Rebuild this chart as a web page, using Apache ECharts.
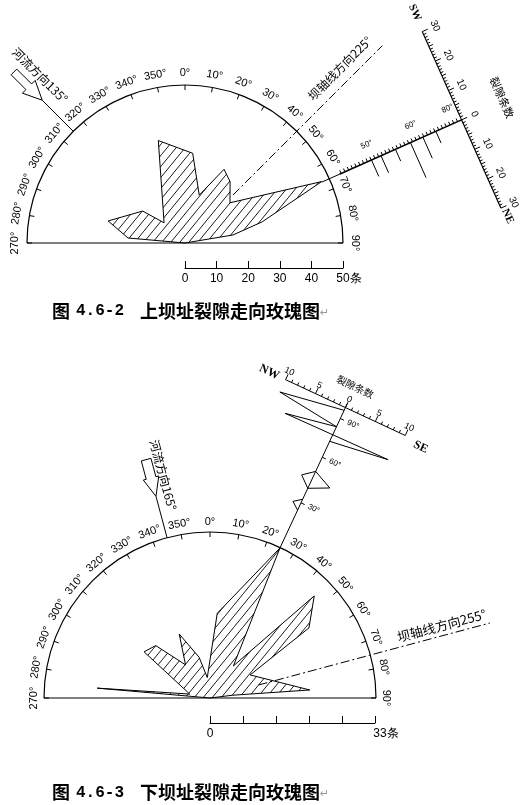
<!DOCTYPE html>
<html><head><meta charset="utf-8">
<script src="https://cdn.jsdelivr.net/npm/echarts@6/dist/echarts.min.js"></script>
<style>html,body{margin:0;padding:0;background:#fff;}#c{width:524px;height:805px;}</style>
</head><body><div id="c"></div>
<script>
// ================= DATA =================
// angle axis ticks (strike azimuth, degrees)
const angleTickValues = [270,280,290,300,310,320,330,340,350,0,10,20,30,40,50,60,70,80,90];
const angleTickLabels = ['270°','280°','290°','300°','310°','320°','330°','340°','350°','0°','10°','20°','30°','40°','50°','60°','70°','80°','90°'];

// Rose 1 (上坝址): outline vertices — fracture count and azimuth
const rose1Count   = [0, 18.1, 25.3, 16.8, 9.2, 33.5, 28.5, 15.8, 26.4, 24.1, 19.1, 47.4, 25.3, 15.4, 0];
const rose1Azimuth = [0, 275, 286, 307, 314, 345.4, 4.9, 16.6, 27.9, 36.3, 48.2, 65.8, 74.7, 80.5, 0];

// Rose 2 (下坝址)
const rose2Count   = [0, 22.5, 4.1, 16.0, 15.0, 8.2, 14.1, 8.4, 4.1, 16.9, 32.9, 7.9, 29.0, 24.1, 9.2, 19.9, 4.5, 0];
const rose2Azimuth = [0, 275, 281, 305, 314, 323.6, 334.3, 345, 352.4, 4.9, 25, 36.1, 45.6, 54.7, 60.1, 85.4, 83, 0];

// scale bars
const scale1Max = 50, scale1Step = 10;
const scale2Max = 33, scale2Step = 6.6;

// annotation directions
const river1Az = 315, dam1Az = 45, strike1Az = 66;
const river2Az = 345, dam2Az = 75, strike2Az = 25;

// dip diagram 1: positions along strike line (count units) and fracture counts
const dip1Pos   = [64.6, 67.9, 72.9, 78.1, 82.4, 86.9];
const dip1Count = [5.6, 5.8, 4.0, 11.9, 7.2, 4.0];
const dip1LabelPos = [65.2, 80.4, 93.2];
const dip1Labels   = ['50°', '60°', '80°'];
const count1Ticks  = [-30, -20, -10, 0, 10, 20, 30];
const count1Labels = ['30', '20', '10', '0', '10', '20', '30'];

// dip diagram 2
const freq2Pos   = [63.1, 61.0, 59.5, 57.6, 57.9, 56.3];
const freq2Count = [0, -10.0, 0, -7.9, 9.2, 0];
const freq2bPos   = [49.7, 47.9, 46.0, 47.9, 49.7];
const freq2bCount = [0, -1.7, 0, 3.0, 0];
const freq2cPos   = [43.6, 42.4, 41.2];
const freq2cCount = [0, -1.2, 0];
const dip2LabelPos = [61.3, 52.8, 42.8];
const dip2Labels   = ['90°', '60°', '30°'];
const count2Ticks  = [-10, -5, 0, 5, 10];
const count2Labels = ['10', '5', '0', '5', '10'];

// ================= HELPERS =================
const toAxis = az => az > 180 ? az - 360 : az;
const DEG = Math.PI / 180;
const CJK = '"Noto Sans CJK SC"';

function hatch() {
  const w = 9, h = 11;
  const cv = document.createElement('canvas'); cv.width = w; cv.height = h;
  const g = cv.getContext('2d');
  g.strokeStyle = '#000'; g.lineWidth = 0.9;
  g.beginPath(); g.moveTo(-w, 2 * h); g.lineTo(2 * w, -h); g.stroke();
  return cv;
}
const hatchFill = { image: hatch(), repeat: 'repeat' };

function T(p, str, rot, font, fill) {
  return { type: 'text', x: p[0], y: p[1], rotation: rot || 0,
    style: { text: str, font: font, fill: fill || '#000', align: 'center', verticalAlign: 'middle',
             textAlign: 'center', textVerticalAlign: 'middle' } };
}
function L(p, q, w, dash) {
  return { type: 'line', shape: { x1: p[0], y1: p[1], x2: q[0], y2: q[1] },
    style: { stroke: '#000', lineWidth: w || 1, lineDash: dash || null, fill: null } };
}
function frameOf(api, az) {
  const c = api.coord([0, 0]);
  const p = api.coord([100, toAxis(az)]);
  const U = [(p[0] - c[0]) / 100, (p[1] - c[1]) / 100];
  const s = Math.hypot(U[0], U[1]);
  const u = [U[0] / s, U[1] / s];
  const n = [-u[1], u[0]];
  return { c, U, u, n, s,
    at(d, oPx, dPx) { oPx = oPx || 0; dPx = dPx || 0;
      return [c[0] + d * U[0] + dPx * u[0] + oPx * n[0], c[1] + d * U[1] + dPx * u[1] + oPx * n[1]]; } };
}

function roseSeries(polarIndex, counts, azs) {
  return { type: 'custom', coordinateSystem: 'polar', polarIndex, z: 3,
    data: counts.map((v, i) => [v, toAxis(azs[i])]),
    renderItem(params, api) {
      if (params.dataIndex !== 0) return null;
      const pts = counts.map((v, i) => api.coord([v, toAxis(azs[i])]));
      return { type: 'polygon', shape: { points: pts },
        style: { fill: hatchFill, stroke: '#000', lineWidth: 1 } };
    } };
}

function decoSeries(polarIndex, cfg) {
  return { type: 'custom', coordinateSystem: 'polar', polarIndex, z: 4, data: [[0, 0]],
    renderItem(params, api) {
      const el = [];
      const R = cfg.rMax;
      const c = api.coord([0, 0]);
      const a = api.coord([R, -90]), b = api.coord([R, 90]);
      el.push(L(a, b, 1.2));
      angleTickValues.forEach((v, i) => {
        const p = api.coord([R, toAxis(v)]);
        const dx = p[0] - c[0], dy = p[1] - c[1], len = Math.hypot(dx, dy);
        const q = [p[0] + dx / len * cfg.labelGap, p[1] + dy / len * cfg.labelGap];
        el.push(T(q, angleTickLabels[i], -toAxis(v) * DEG, '11px "Liberation Sans"'));
      });
      // dam axis
      const D = frameOf(api, cfg.damAz);
      el.push(L(D.at(cfg.damFrom), D.at(cfg.damTo), 1, [9, 3, 2, 3]));
      el.push(T(D.at(cfg.damTextAt, cfg.damTextOff), cfg.damText, (90 - cfg.damAz) * DEG, cfg.damFont));
      // river arrow
      const F = frameOf(api, cfg.riverAz);
      const tip = F.at(cfg.riverTip);
      const q = (al, pe) => [tip[0] + al * F.u[0] + pe * F.n[0], tip[1] + al * F.u[1] + pe * F.n[1]];
      const A = cfg.arrow;
      el.push(L(F.at(R), tip, 1));
      el.push({ type: 'polygon', shape: { points: [tip, q(A.head, A.hh), q(A.head, A.hs), q(A.len, A.hs), q(A.len, -A.hs), q(A.head, -A.hs), q(A.head, -A.hh)] },
        style: { fill: '#fff', stroke: '#000', lineWidth: 1 } });
      el.push(T(F.at(cfg.riverTextAt, cfg.riverTextOff), cfg.riverText, -(90 + toAxis(cfg.riverAz)) * DEG, '12px ' + CJK));
      return { type: 'group', children: el };
    } };
}

function aux1Series() {
  return { type: 'custom', coordinateSystem: 'polar', polarIndex: 0, z: 5, data: [[0, 0]],
    renderItem(params, api) {
      const el = [];
      const F = frameOf(api, strike1Az);
      const k = 3.22; // px per fracture on count scale
      const start = 47.4, from = 53.5, end = 95.8;
      el.push(L(F.at(start), F.at(from), 1));
      el.push(L(F.at(from), F.at(end), 1.6));
      for (let d = from + 0.6; d < end - 0.5; d += 1.3) el.push(L(F.at(d), F.at(d, -3.5), 1));
      dip1Pos.forEach((d, i) => el.push(L(F.at(d), F.at(d, dip1Count[i] * k), 1)));
      dip1LabelPos.forEach((d, i) => el.push(T(F.at(d, -16), dip1Labels[i], (90 - strike1Az) * DEG, '8px "Liberation Sans"')));
      el.push(L(F.at(end, -30 * k), F.at(end, 30 * k), 1.2));
      for (let j = -30; j <= 30; j++) {
        const len = j % 10 === 0 ? 6 : (j % 5 === 0 ? 4.5 : 3);
        el.push(L(F.at(end, j * k), F.at(end, j * k, len), 1));
      }
      const rot = -strike1Az * DEG;
      count1Ticks.forEach((v, i) => el.push(T(F.at(end, v * k, 14), count1Labels[i], rot, '10px "Liberation Sans"')));
      el.push(T(F.at(end, -117, 1), 'SW', rot, 'bold 11px "Liberation Serif"'));
      el.push(T(F.at(end, 107, 3), 'NE', rot, 'bold 11px "Liberation Serif"'));
      el.push(T(F.at(end, -4, 46), '裂隙条数', rot, '11px ' + CJK));
      return { type: 'group', children: el };
    } };
}

function aux2Series() {
  return { type: 'custom', coordinateSystem: 'polar', polarIndex: 1, z: 5, data: [[0, 0]],
    renderItem(params, api) {
      const el = [];
      const F = frameOf(api, strike2Az);
      const k = 6.6;
      const start = 32.9, end = 64.5, at0 = 63.7;
      el.push(L(F.at(start), F.at(end), 1));
      el.push(L(F.at(at0, -10 * k), F.at(at0, 10 * k), 1));
      for (let j = -10; j <= 10; j++) {
        const len = j % 5 === 0 ? 6 : 3;
        el.push(L(F.at(at0, j * k), F.at(at0, j * k, len), 1));
      }
      const rot = -strike2Az * DEG;
      count2Ticks.forEach((v, i) => el.push(T(F.at(at0, v * k, 9), count2Labels[i], rot, '9px "Liberation Sans"')));
      el.push(T(F.at(at0, -84, 0), 'NW', rot, 'bold 12px "Liberation Serif"'));
      el.push(T(F.at(at0, 85, -4), 'SE', rot, 'bold 12px "Liberation Serif"'));
      el.push(T(F.at(at0, 0, 23), '裂隙条数', rot, '10px ' + CJK));
      el.push({ type: 'polyline', shape: { points: freq2Pos.map((d, i) => F.at(d, freq2Count[i] * k)) },
        style: { stroke: '#000', fill: null, lineWidth: 1 } });
      el.push({ type: 'polyline', shape: { points: freq2bPos.map((d, i) => F.at(d, freq2bCount[i] * k)) },
        style: { stroke: '#000', fill: null, lineWidth: 1 } });
      el.push({ type: 'polyline', shape: { points: freq2cPos.map((d, i) => F.at(d, freq2cCount[i] * k)) },
        style: { stroke: '#000', fill: null, lineWidth: 1 } });
      dip2LabelPos.forEach((d, i) => {
        el.push(L(F.at(d), F.at(d, 4), 1));
        el.push(T(F.at(d, 14), dip2Labels[i], rot, '8px "Liberation Sans"'));
      });
      return { type: 'group', children: el };
    } };
}

// ================= CHART =================
const chart = echarts.init(document.getElementById('c'), null, { renderer: 'canvas' });
const angleAxisBase = i => ({ polarIndex: i, type: 'value', min: -90, max: 90, interval: 10,
  startAngle: 180, endAngle: 0, clockwise: true,
  axisLine: { show: true, lineStyle: { color: '#000', width: 1.2 } },
  axisTick: { show: true, inside: true, length: 5, lineStyle: { color: '#000', width: 1 } },
  axisLabel: { show: false }, splitLine: { show: false }, splitArea: { show: false } });

const scaleAxis = (gi, max, step, lastLabel) => ({
  gridIndex: gi, type: 'value', min: 0, max: max, interval: step, position: 'bottom',
  axisLine: { show: true, onZero: false, lineStyle: { color: '#000', width: 1 } },
  axisTick: { show: true, inside: true, length: 7, lineStyle: { color: '#000', width: 1 } },
  splitLine: { show: false },
  axisLabel: { show: true, margin: 5, color: '#000', fontSize: 12, fontFamily: 'Liberation Sans',
    formatter: v => Math.abs(v - max) < 1e-6 ? '{u|' + lastLabel + '}' : (gi === 1 && v > 0 ? '' : String(Math.round(v))),
    rich: { u: { fontSize: 12, fontFamily: 'Liberation Sans', color: '#000', padding: [0, 0, 0, gi === 0 ? 12 : 22] } } }
});

chart.setOption({
  animation: false,
  backgroundColor: '#fff',
  polar: [{ center: [185, 243], radius: 158 }, { center: [210, 698], radius: 166 }],
  angleAxis: [angleAxisBase(0), angleAxisBase(1)],
  radiusAxis: [{ polarIndex: 0, type: 'value', min: 0, max: scale1Max, show: false },
               { polarIndex: 1, type: 'value', min: 0, max: scale2Max, show: false }],
  grid: [{ left: 185, width: 158, top: 230, height: 38 }, { left: 210, width: 165, top: 685, height: 38 }],
  xAxis: [scaleAxis(0, scale1Max, scale1Step, '50条'), scaleAxis(1, scale2Max, scale2Step, '33条')],
  yAxis: [{ gridIndex: 0, show: false, min: 0, max: 1 }, { gridIndex: 1, show: false, min: 0, max: 1 }],
  graphic: [
    { type: 'text', x: 52, y: 311, style: { text: '图', font: 'bold 18px ' + CJK, fill: '#000', verticalAlign: 'middle', textVerticalAlign: 'middle' } },
    { type: 'text', x: 76, y: 311, style: { text: '4.6-2', font: 'bold 16px "Liberation Mono"', fill: '#000', verticalAlign: 'middle', textVerticalAlign: 'middle' } },
    { type: 'text', x: 140, y: 311, style: { text: '上坝址裂隙走向玫瑰图', font: 'bold 18px ' + CJK, fill: '#000', verticalAlign: 'middle', textVerticalAlign: 'middle' } },
    { type: 'text', x: 320, y: 313, style: { text: '↵', font: '11px "DejaVu Sans"', fill: '#999', verticalAlign: 'middle', textVerticalAlign: 'middle' } },
    { type: 'text', x: 52, y: 792.5, style: { text: '图', font: 'bold 18px ' + CJK, fill: '#000', verticalAlign: 'middle', textVerticalAlign: 'middle' } },
    { type: 'text', x: 76, y: 792.5, style: { text: '4.6-3', font: 'bold 16px "Liberation Mono"', fill: '#000', verticalAlign: 'middle', textVerticalAlign: 'middle' } },
    { type: 'text', x: 140, y: 792.5, style: { text: '下坝址裂隙走向玫瑰图', font: 'bold 18px ' + CJK, fill: '#000', verticalAlign: 'middle', textVerticalAlign: 'middle' } },
    { type: 'text', x: 320, y: 794.5, style: { text: '↵', font: '11px "DejaVu Sans"', fill: '#999', verticalAlign: 'middle', textVerticalAlign: 'middle' } }
  ],
  series: [
    roseSeries(0, rose1Count, rose1Azimuth),
    roseSeries(1, rose2Count, rose2Azimuth),
    decoSeries(0, { rMax: scale1Max, labelGap: 12.5,
      damAz: dam1Az, damFrom: 21.5, damTo: 88.3, damTextAt: 73.7, damTextOff: -14, damText: '坝轴线方向225°', damFont: '12px ' + CJK,
      riverAz: river1Az, riverTip: 63.9, riverTextAt: 70, riverTextOff: 16, riverText: '河流方向135°',
      arrow: { head: 19, hh: 9, hs: 4, len: 40 } }),
    decoSeries(1, { rMax: scale2Max, labelGap: 10.5,
      damAz: dam2Az, damFrom: 10, damTo: 57.6, damTextAt: 48.2, damTextOff: -10, damText: '坝轴线方向255°', damFont: '13px ' + CJK,
      riverAz: river2Az, riverTip: 41.5, riverTextAt: 45.2, riverTextOff: 12.5, riverText: '河流方向165°',
      arrow: { head: 19, hh: 8, hs: 5, len: 38 } }),
    aux1Series(),
    aux2Series()
  ]
});
</script>
</body></html>
